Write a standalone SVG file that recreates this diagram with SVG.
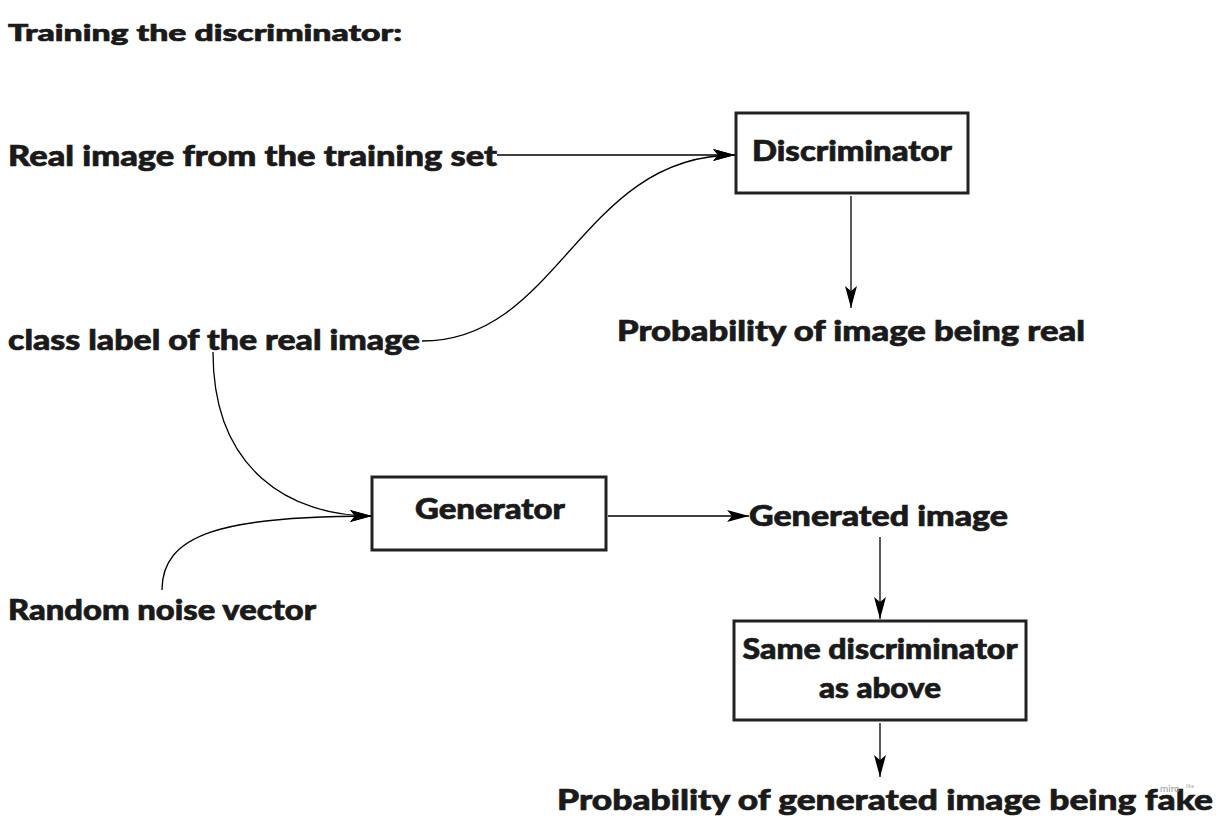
<svg xmlns="http://www.w3.org/2000/svg" width="1219" height="820" viewBox="0 0 1219 820">
<style>
  .t { font-family: Lato, "Open Sans", "Liberation Sans", sans-serif; font-weight: 900; fill: #1a1a1a; stroke: #1a1a1a; stroke-width: 0.7; }
  .box { fill: #ffffff; stroke: #222222; stroke-width: 3; }
  .c { fill: none; stroke: #000000; stroke-width: 1.3; }
</style>
<defs>
  <marker id="ah" viewBox="0 0 22 12" refX="22" refY="6" markerWidth="22" markerHeight="12" markerUnits="userSpaceOnUse" orient="auto">
    <path d="M0,0 L22,6 L0,12 L5,6 Z" fill="#000"/>
  </marker>
</defs>
<rect width="1219" height="820" fill="#ffffff"/>

<text id="title" class="t" x="8" y="41" font-size="23" textLength="394" lengthAdjust="spacingAndGlyphs">Training the discriminator:</text>

<g id="connectors">
  <path class="c" d="M497,155 L735,155" marker-end="url(#ah)"/>
  <path class="c" d="M422,341 C560,341 580,155 735,155" marker-end="url(#ah)"/>
  <path class="c" d="M851,196 L851,308" marker-end="url(#ah)"/>
  <path class="c" d="M213,352 C213,470 290,516 372,516" marker-end="url(#ah)"/>
  <path class="c" d="M162,590 C162,535 220,516 372,516" marker-end="url(#ah)"/>
  <path class="c" d="M608,516 L749,516" marker-end="url(#ah)"/>
  <path class="c" d="M880,537 L880,619" marker-end="url(#ah)"/>
  <path class="c" d="M880,723 L880,777" marker-end="url(#ah)"/>
</g>

<g id="real-image">
  <text class="t" x="8" y="166" font-size="28" textLength="489" lengthAdjust="spacingAndGlyphs">Real image from the  training set</text>
</g>
<g id="discriminator">
  <rect class="box" x="736" y="113" width="232" height="80"/>
  <text class="t" x="852" y="161" font-size="28" text-anchor="middle" textLength="200" lengthAdjust="spacingAndGlyphs">Discriminator</text>
</g>
<g id="prob-real">
  <text class="t" x="851" y="341" font-size="28" text-anchor="middle" textLength="468" lengthAdjust="spacingAndGlyphs">Probability of image being real</text>
</g>
<g id="class-label">
  <text class="t" x="8" y="350" font-size="28" textLength="412" lengthAdjust="spacingAndGlyphs">class label of the real image</text>
</g>
<g id="generator">
  <rect class="box" x="372" y="477" width="234" height="73"/>
  <text class="t" x="490" y="519" font-size="28" text-anchor="middle" textLength="150" lengthAdjust="spacingAndGlyphs">Generator</text>
</g>
<g id="noise">
  <text class="t" x="8" y="620" font-size="28" textLength="308" lengthAdjust="spacingAndGlyphs">Random noise vector</text>
</g>
<g id="generated-image">
  <text class="t" x="749" y="526" font-size="28" textLength="259" lengthAdjust="spacingAndGlyphs">Generated image</text>
</g>
<g id="same-discriminator">
  <rect class="box" x="734" y="621" width="292" height="99"/>
  <text class="t" x="880" y="659" font-size="28" text-anchor="middle" textLength="275" lengthAdjust="spacingAndGlyphs">Same discriminator</text>
  <text class="t" x="880" y="698" font-size="28" text-anchor="middle" textLength="122" lengthAdjust="spacingAndGlyphs">as above</text>
</g>
<g id="prob-fake">
  <text class="t" x="557" y="810" font-size="29" textLength="656" lengthAdjust="spacingAndGlyphs">Probability of generated image being fake</text>
</g>
<g id="watermark">
  <text x="1160" y="792" font-family="Lato, 'Liberation Sans', sans-serif" font-size="10" fill="#9a9a9a">miro</text>
  <text x="1186" y="788" font-family="Lato, 'Liberation Sans', sans-serif" font-size="6" fill="#b0b0b0">lite</text>
</g>
</svg>
